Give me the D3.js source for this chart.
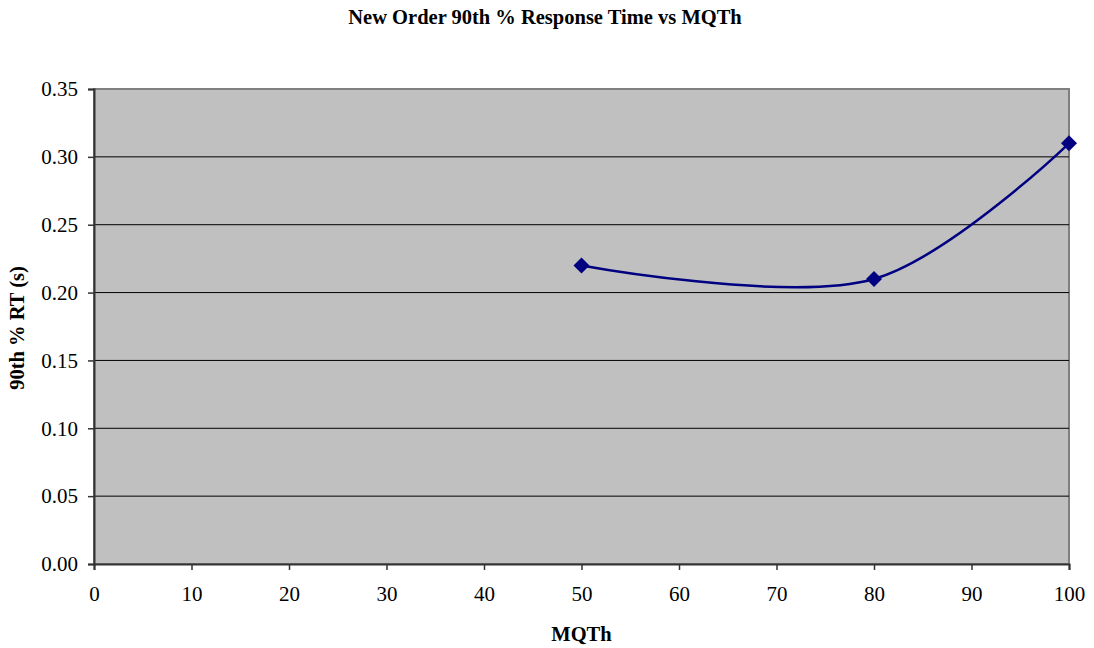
<!DOCTYPE html>
<html>
<head>
<meta charset="utf-8">
<script src="https://cdn.jsdelivr.net/npm/d3@7"></script>
<style>
  body { margin: 0; background: #fff; }
  text { font-family: "Liberation Serif", "Times New Roman", serif; }
</style>
</head>
<body>
<div id="chart"></div>
<script>
// chart data
var mqth = [50, 80, 100];
var rt90 = [0.22, 0.21, 0.31];
var xTicks = [0, 10, 20, 30, 40, 50, 60, 70, 80, 90, 100];
var yTicks = [0, 0.05, 0.10, 0.15, 0.20, 0.25, 0.30, 0.35];

var W = 1094, H = 648;
var margin = {top: 89, right: 25, bottom: 84, left: 94},
  width = W - margin.left - margin.right,
  height = H - margin.top - margin.bottom;

var svg = d3.select("#chart").append("svg")
  .attr("width", W).attr("height", H);

// title
svg.append("text")
  .attr("x", 545).attr("y", 24)
  .attr("text-anchor", "middle")
  .style("font-size", "20.5px").style("font-weight", "bold")
  .text("New Order 90th % Response Time vs MQTh");

var g = svg.append("g")
  .attr("transform", "translate(" + margin.left + "," + margin.top + ")");

var x = d3.scaleLinear().domain([0, 100]).range([0, width]);
var y = d3.scaleLinear().domain([0, 0.35]).range([height, 0]);

// plot background
g.append("rect")
  .attr("width", width).attr("height", height)
  .attr("fill", "#c0c0c0")
  .attr("stroke", "#808080").attr("stroke-width", 2);

// gridlines
g.selectAll(".grid").data(yTicks.filter(function(d) { return d > 0 && d < 0.35; }))
  .enter().append("line")
  .attr("x1", 0).attr("x2", width)
  .attr("y1", function(d) { return y(d); })
  .attr("y2", function(d) { return y(d); })
  .attr("stroke", "#000").attr("stroke-width", 1);

// axes
var yAxis = g.append("g")
  .call(d3.axisLeft(y).tickValues(yTicks).tickFormat(d3.format(".2f")).tickSize(6).tickPadding(10));
var xAxis = g.append("g")
  .attr("transform", "translate(0," + height + ")")
  .call(d3.axisBottom(x).tickValues(xTicks).tickSize(6).tickPadding(16));
[xAxis, yAxis].forEach(function(a) {
  a.select(".domain").attr("stroke", "#333").attr("stroke-width", 2);
  a.selectAll(".tick line").attr("stroke", "#333").attr("stroke-width", 1.5);
  a.selectAll("text").style("font-size", "21px").style("font-family", "Liberation Serif, serif").attr("fill", "#000");
});

// axis titles
svg.append("text")
  .attr("x", margin.left + width / 2).attr("y", 641)
  .attr("text-anchor", "middle")
  .style("font-size", "20.5px").style("font-weight", "bold")
  .text("MQTh");
svg.append("text")
  .attr("transform", "translate(24," + 328 + ") rotate(-90)")
  .attr("text-anchor", "middle")
  .style("font-size", "20.5px").style("font-weight", "bold")
  .text("90th % RT (s)");

// smoothed line
var pts = mqth.map(function(d, i) { return [d, rt90[i]]; });
var line = d3.line()
  .x(function(d) { return x(d[0]); })
  .y(function(d) { return y(d[1]); })
  .curve(d3.curveCatmullRom.alpha(0.5));
g.append("path")
  .datum(pts)
  .attr("fill", "none")
  .attr("stroke", "#000080")
  .attr("stroke-width", 2.5)
  .attr("d", line);

// diamond markers
g.selectAll(".pt").data(pts).enter().append("path")
  .attr("transform", function(d) { return "translate(" + x(d[0]) + "," + y(d[1]) + ")"; })
  .attr("d", "M0,-8L8,0L0,8L-8,0Z")
  .attr("fill", "#000080");
</script>
</body>
</html>
